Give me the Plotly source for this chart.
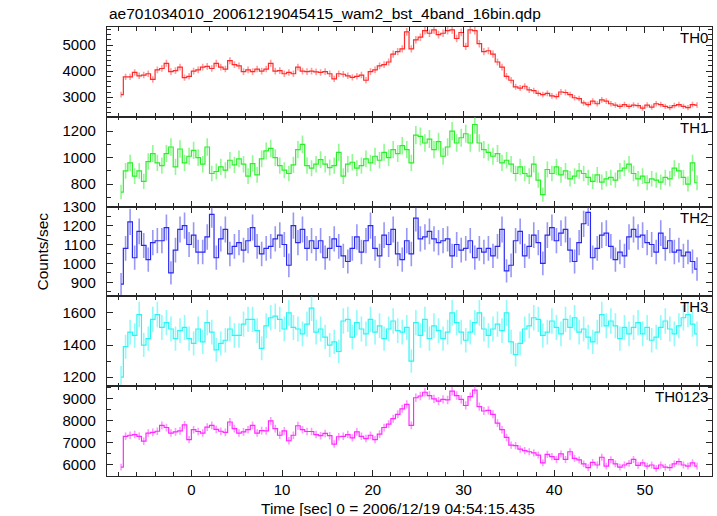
import math
import plotly.graph_objects as go
from plotly.subplots import make_subplots

# ---- data (counts/sec, 0.5 s bins starting at t = -7.75 s) ----
t_start = -7.75
bin_width = 0.5
src_bin_sec = 0.25  # binning of the source file (16 x 1/64 s), used for Poisson errors

th0 = [3100, 3780, 3780, 3950, 3820, 3850, 3900, 3680, 4050, 4100, 4300, 3980, 4020, 4150, 3750, 3800,
       4000, 4050, 4150, 4180, 4100, 4300, 4150, 4080, 4400, 4250, 4200, 3980, 4050, 3980, 4080, 4000,
       4080, 4300, 4000, 4020, 3900, 3950, 3900, 4150, 4000, 3980, 4000, 3970, 3950, 3980, 3900, 3700,
       3900, 3880, 3820, 3760, 3800, 3850, 3650, 3980, 4050, 4200, 4250, 4350, 4650, 4750, 4850, 5500,
       4850, 5200, 5300, 5550, 5450, 5580, 5400, 5450, 5550, 5580, 5250, 5480, 4950, 5580, 5550, 5050,
       4750, 4780, 4650, 4350, 4150, 3800, 3650, 3400, 3350, 3420, 3280, 3250, 3150, 3100, 3150, 3050,
       3020, 3200, 3180, 3100, 2980, 2950, 2780, 2720, 2850, 2750, 2900, 2850, 2750, 2700, 2650, 2720,
       2650, 2700, 2680, 2580, 2700, 2620, 2750, 2720, 2650, 2600, 2680, 2720, 2650, 2600, 2720, 2700]

th1 = [740, 900, 960, 860, 900, 820, 970, 1030, 960, 940, 1030, 1080, 930, 1065, 960, 1010,
       1055, 1000, 950, 1080, 880, 895, 930, 905, 980, 945, 990, 950, 860, 955, 870, 990,
       1050, 1070, 1000, 940, 905, 880, 945, 1060, 1100, 940, 920, 950, 985, 950, 925, 940,
       1040, 860, 950, 965, 920, 940, 990, 960, 1010, 980, 1040, 1000, 1060, 1030, 1090, 1060,
       960, 1170, 1160, 1110, 1140, 1060, 1120, 1010, 1080, 1200, 1110, 1150, 1180, 1110, 1250, 1110,
       1060, 1040, 1010, 1030, 960, 980, 950, 880, 930, 880, 860, 950, 830, 720, 910, 880,
       930, 870, 900, 840, 860, 900, 880, 850, 820, 870, 815, 840, 850, 830, 900, 920,
       950, 880, 840, 860, 810, 840, 830, 815, 850, 840, 920, 900, 850, 800, 960, 810]

th2 = [890, 1080, 1220, 1030, 1170, 1095, 1020, 1110, 1120, 1120, 1190, 950, 1070, 1180, 1200, 1100,
       1150, 1060, 1060, 1140, 1260, 1030, 1130, 1180, 1050, 1090, 1110, 1070, 1120, 1190, 1090, 1050,
       1080, 1090, 1130, 1150, 1100, 990, 1200, 1110, 1180, 1080, 1120, 1080, 1120, 1030, 1080, 1130,
       1090, 1040, 1010, 1080, 1140, 1060, 1120, 1200, 1080, 1040, 1150, 1100, 1180, 1050, 1020, 1120,
       1050, 1240, 1130, 1140, 1170, 1130, 1110, 1120, 1130, 1040, 1100, 1070, 1080, 1120, 1030, 1080,
       1060, 1080, 1040, 1090, 1180, 960, 990, 1120, 1170, 1040, 1090, 1150, 1110, 1000, 1150, 1190,
       1120, 1160, 1180, 1070, 1010, 1110, 1210, 1270, 1030, 1080, 1150, 1160, 1090, 1020, 1060, 1040,
       1140, 1180, 1140, 1150, 1110, 1100, 1060, 1160, 1080, 1120, 1060, 1070, 1040, 1060, 1010, 970]

th3 = [1200, 1390, 1480, 1460, 1590, 1400, 1440, 1560, 1590, 1510, 1540, 1500, 1440, 1490, 1510, 1440,
       1410, 1500, 1420, 1540, 1480, 1370, 1410, 1430, 1500, 1460, 1460, 1530, 1560, 1560, 1490, 1380,
       1520, 1570, 1580, 1560, 1500, 1600, 1510, 1500, 1470, 1530, 1630, 1480, 1500, 1450, 1400, 1420,
       1360, 1550, 1560, 1450, 1540, 1500, 1470, 1560, 1480, 1520, 1440, 1500, 1550, 1490, 1480, 1510,
       1300, 1540, 1460, 1560, 1440, 1520, 1490, 1440, 1480, 1600, 1540, 1480, 1430, 1480, 1540, 1600,
       1500, 1460, 1500, 1530, 1490, 1600, 1420, 1340, 1410, 1500, 1520, 1570, 1560, 1460, 1480, 1550,
       1510, 1470, 1560, 1510, 1570, 1480, 1500, 1450, 1420, 1480, 1590, 1520, 1550, 1520, 1440, 1510,
       1470, 1510, 1540, 1470, 1510, 1430, 1450, 1510, 1550, 1500, 1470, 1520, 1570, 1590, 1530, 1470]

th0123 = [5900, 7300, 7350, 7380, 7300, 7080, 7450, 7480, 7530, 7800, 7700, 7450, 7500, 7550, 7820, 7150,
          7600, 7520, 7450, 7720, 7800, 7620, 7530, 7480, 7950, 7650, 7450, 7500, 7600, 7800, 7450, 7560,
          7550, 8000, 7650, 7350, 7550, 7100, 7350, 7780, 7600, 7520, 7520, 7380, 7330, 7430, 7330, 6950,
          7280, 7300, 7380, 7230, 7500, 7300, 7200, 7350, 7150, 7400, 7700, 7850, 8100, 8300, 8550, 8750,
          7800, 9050, 9130, 9300, 9150, 9000, 8900, 8980, 8950, 9350, 9150, 8980, 8700, 9100, 9400, 8650,
          8450, 8480, 8300, 7900, 7600, 7250, 6900, 6880, 6720, 6650, 6600, 6550, 6450, 6100, 6480, 6380,
          6250, 6500, 6250, 6600, 6300, 6230, 6050, 5880, 6120, 6000, 6350, 5950, 6240, 6050, 5900, 6000,
          6070, 6250, 5980, 6100, 5950, 6000, 5850, 6000, 5900, 5880, 6050, 6150, 6000, 5950, 6100, 5950]

series = [th0, th1, th2, th3, th0123]
names = ["TH0", "TH1", "TH2", "TH3", "TH0123"]
line_colors = ["#ff2a2a", "#2aee2a", "#2a2aee", "#2af5f5", "#ff2aff"]
err_colors = ["rgba(255,60,60,0.5)", "rgba(40,240,40,0.5)", "rgba(50,50,240,0.5)",
              "rgba(40,245,245,0.5)", "rgba(255,50,255,0.5)"]
y_ranges = [[2250, 5690], [630, 1308], [825, 1301], [1144, 1703], [5500, 9575]]
y_dticks = [1000, 200, 100, 200, 1000]
y_minor = [200, 100, 50, 100, 500]
x_range = [-9.3, 57.4]

title_text = "ae701034010_20061219045415_wam2_bst_4band_16bin.qdp"
x_title = "Time [sec] 0 = 2006/12/19 04:54:15.435"
y_title = "Counts/sec"

FONT = "Liberation Sans, Arial, Helvetica, sans-serif"
FRAME = "#262626"

fig = make_subplots(rows=5, cols=1, shared_xaxes=True, vertical_spacing=0)

for i, vals in enumerate(series):
    times = [t_start + k * bin_width for k in range(len(vals))]
    errs = [math.sqrt(v / src_bin_sec) for v in vals]
    fig.add_trace(go.Scatter(
        x=times, y=vals, mode="lines", line=dict(color=line_colors[i], width=1.2, shape="hvh"),
        error_y=dict(type="data", array=errs, visible=True, color=err_colors[i], thickness=1.6, width=0),
        showlegend=False, hoverinfo="skip"), row=i + 1, col=1)

    fig.update_yaxes(range=y_ranges[i], dtick=y_dticks[i], tick0=0, ticks="inside", ticklen=6,
                     tickwidth=1, tickcolor=FRAME, showline=True, linecolor=FRAME, linewidth=1.2,
                     mirror="allticks", showgrid=False, zeroline=False, ticklabelstandoff=7,
                     tickfont=dict(family=FONT, size=15, color="black"),
                     minor=dict(dtick=y_minor[i], tick0=0, ticks="inside", ticklen=3.5, tickcolor=FRAME,
                                showgrid=False),
                     row=i + 1, col=1)
    fig.update_xaxes(range=x_range, dtick=10, tick0=0, ticks="inside", ticklen=6, tickwidth=1,
                     tickcolor=FRAME, showline=True, linecolor=FRAME, linewidth=1.2, mirror="allticks",
                     showgrid=False, zeroline=False, showticklabels=(i == 4), ticklabelstandoff=0,
                     tickfont=dict(family=FONT, size=15, color="black"),
                     minor=dict(dtick=2, tick0=0, ticks="inside", ticklen=3.5, tickcolor=FRAME,
                                showgrid=False),
                     row=i + 1, col=1)
    yref = "y domain" if i == 0 else f"y{i + 1} domain"
    fig.add_annotation(text=names[i], xref="paper", x=1, xanchor="right", xshift=-2,
                       yref=yref, y=1, yanchor="top", yshift=0, showarrow=False,
                       font=dict(family=FONT, size=15, color="black"))

fig.add_annotation(text=title_text, xref="paper", x=0, xanchor="left", yref="paper", y=1,
                   yanchor="bottom", yshift=3, showarrow=False,
                   font=dict(family=FONT, size=15.5, color="black"))
fig.add_annotation(text=x_title, xref="paper", x=0.481, xanchor="center", yref="paper", y=-0.0713,
                   yanchor="middle", showarrow=False, font=dict(family=FONT, size=15.5, color="black"))
fig.add_annotation(text=y_title, xref="paper", x=0, xanchor="center", xshift=-65, yref="paper", y=0.5,
                   yanchor="middle", textangle=-90, showarrow=False,
                   font=dict(family=FONT, size=15.5, color="black"))

fig.update_layout(width=717, height=516, margin=dict(l=107, r=5, t=27, b=40),
                  paper_bgcolor="white", plot_bgcolor="white")

fig.write_html("out.html", config={"displayModeBar": False},
               post_script="document.body.style.margin='0';document.body.style.padding='0';")
